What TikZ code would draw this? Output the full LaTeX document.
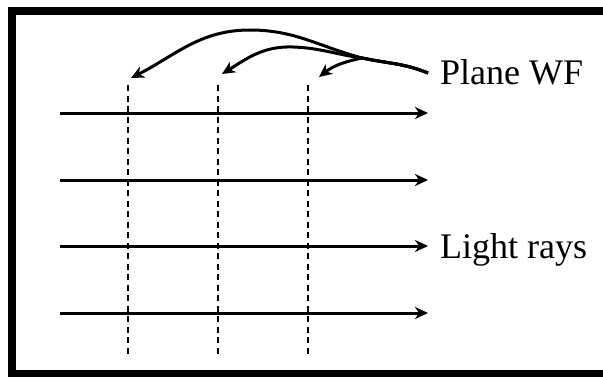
\documentclass[tikz,border=0pt]{standalone}
\usepackage{fontspec}
\setmainfont{Liberation Serif}
\usetikzlibrary{arrows.meta}
\begin{document}
\begin{tikzpicture}[x=1pt,y=1pt,
  ray/.style={line width=3pt,-{Stealth[length=13pt,width=12pt,inset=4pt]}},
  wf/.style={line width=3pt,-{Stealth[length=13pt,width=12pt,inset=4pt]}},
  front/.style={line width=1.8pt,dash pattern=on 6pt off 4.5pt},
  lbl/.style={anchor=base west,inner sep=0pt,font=\fontsize{36}{40}\selectfont}]
\useasboundingbox (0,0) rectangle (603,376);
\clip (0,0) rectangle (603,376);
\fill[white] (0,0) rectangle (603,376);
\draw[line width=8pt] (11.75,2) rectangle (640,364.7);
% rays
\foreach \i/\y in {1/263,2/196,3/130,4/63}{
  \coordinate (rs\i) at (60,\y);
  \coordinate (re\i) at (428,\y);
}
% wavefronts
\foreach \i/\x in {1/127.7,2/218,3/308}{
  \coordinate (ft\i) at (\x,291);
  \coordinate (fb\i) at (\x,20);
  \draw[front] (ft\i) -- (fb\i);
}
\foreach \i in {1,2,3,4}{\draw[ray] (rs\i) -- (re\i);}
% curved pointers
\coordinate (E) at (428,303);
\coordinate (M) at (362,318);
\coordinate (P1) at (250,346);
\coordinate (P2) at (293,329);
\coordinate (T1) at (131,298);
\coordinate (T2) at (222,302);
\coordinate (T3) at (319,299);
\draw[wf] (E) to[out=158,in=-12] (M) to[out=165,in=0] (P1) to[out=180,in=27] (T1);
\draw[wf] (E) to[out=158,in=-12] (M) to[out=172,in=-2] (P2) to[out=178,in=32] (T2);
\draw[wf] (E) to[out=158,in=-12] (M) to[out=192,in=38] (T3);
\node[lbl] (pw) at (440,292) {Plane WF};
\node[lbl] (lr) at (440,118) {Light rays};
\end{tikzpicture}
\end{document}
